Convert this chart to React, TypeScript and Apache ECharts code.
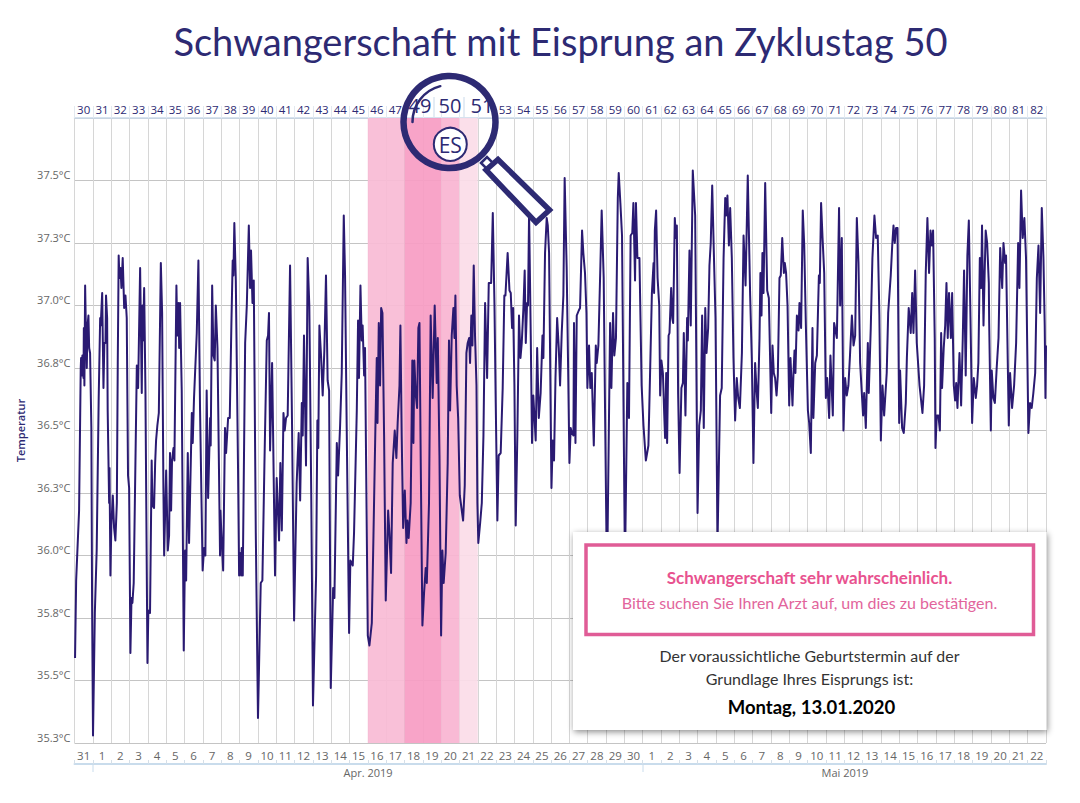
import React, { useEffect, useRef } from "react";
import * as echarts from "echarts";

const TITLE = "Schwangerschaft mit Eisprung an Zyklustag 50";
const NAVY = "#2d2a73";
const LINE = "#2a1a72";
const PINK = "#e05c96";

const cycleDays = ["30","31","32","33","34","35","36","37","38","39","40","41","42","43","44","45","46","47","","","","","","53","54","55","56","57","58","59","60","61","62","63","64","65","66","67","68","69","70","71","72","73","74","75","76","77","78","79","80","81","82"];
const calendarDays = ["31","1","2","3","4","5","6","7","8","9","10","11","12","13","14","15","16","17","18","19","20","21","22","23","24","25","26","27","28","29","30","1","2","3","4","5","6","7","8","9","10","11","12","13","14","15","16","17","18","19","20","21","22"];
const monthLabels = [{ text: "Apr. 2019", x: 368 }, { text: "Mai 2019", x: 845 }];
const fertileBands = [
  { from: 16, to: 18, color: "#f9bbd5" },
  { from: 18, to: 20, color: "#f79cc3" },
  { from: 20, to: 21, color: "#f9b4d1" },
  { from: 21, to: 22, color: "#fbdce8" },
];

// [day since 31 March, temperature in °C]
const firstStretch: [number, number][] = [
[0.03,35.59],[0.09,35.90],[0.25,36.18],[0.34,36.75],[0.36,36.79],[0.40,36.72],[0.43,36.80],[0.49,36.71],[0.51,36.91],[0.54,36.68],[0.58,37.08],[0.61,36.95],[0.67,36.75],[0.71,36.92],[0.76,36.96],[0.80,36.83],[0.85,36.81],[0.92,36.51],[0.96,35.80],[1.01,35.28],
[1.11,35.77],[1.21,36.02],[1.32,36.63],[1.40,36.95],[1.43,36.92],[1.51,37.05],[1.58,36.67],[1.63,36.85],[1.69,36.85],[1.72,37.04],[1.78,36.95],[1.81,36.58],[1.89,36.21],[1.91,36.35],[1.96,35.92],
[2.01,36.12],[2.09,36.24],[2.16,36.11],[2.23,36.06],[2.31,36.21],[2.36,36.77],[2.41,37.20],[2.45,37.11],[2.51,37.15],[2.56,37.07],[2.63,37.19],[2.71,36.99],[2.78,37.04],[2.85,36.95],[2.92,36.32],[2.98,36.27],
[3.05,35.61],[3.11,35.83],[3.16,35.81],[3.23,35.89],[3.40,36.76],[3.47,36.67],[3.58,37.15],[3.67,36.65],[3.71,37.00],[3.74,36.86],[3.80,37.07],[3.87,36.66],[3.98,35.57],
[4.03,35.78],[4.12,35.77],[4.21,36.38],[4.25,36.20],[4.34,36.19],[4.40,36.37],[4.45,36.46],[4.52,36.52],[4.60,36.57],[4.71,37.17],[4.78,36.97],[4.85,36.27],[4.89,36.00],
[5.00,36.34],[5.09,36.02],[5.16,36.08],[5.21,36.41],[5.27,36.18],[5.32,36.38],[5.40,36.43],[5.45,36.38],[5.56,37.08],[5.61,36.88],[5.67,37.01],[5.71,36.83],[5.76,37.01],[5.85,36.66],[5.96,35.62],
[6.03,36.02],[6.09,35.90],[6.18,36.41],[6.25,36.05],[6.32,36.29],[6.40,36.57],[6.45,36.45],[6.52,36.63],[6.67,36.89],[6.76,37.18],[6.85,36.58],[6.99,35.94],
[7.07,36.03],[7.14,36.00],[7.21,36.66],[7.29,36.23],[7.40,36.55],[7.43,36.44],[7.51,37.08],[7.58,36.80],[7.65,36.78],[7.71,37.00],[7.80,36.83],[7.94,36.00],[7.96,36.18],
[8.03,36.06],[8.11,35.94],[8.21,36.51],[8.27,36.41],[8.38,36.55],[8.47,36.55],[8.56,36.93],[8.63,37.18],[8.67,37.12],[8.72,37.33],[8.80,37.10],[8.92,36.36],[8.98,35.92],
[9.03,36.01],[9.09,35.92],[9.12,36.03],[9.18,35.92],[9.31,36.85],[9.40,37.00],[9.51,37.32],[9.58,37.07],[9.63,37.22],[9.71,37.01],[9.78,37.10],[9.89,36.09],
[10.01,35.35],[10.16,35.89],[10.25,35.90],[10.36,36.36],[10.49,36.86],[10.56,36.88],[10.61,36.97],[10.67,36.42],[10.78,36.77],[10.83,36.51],[10.94,35.92],
[11.03,36.31],[11.16,36.06],[11.23,36.37],[11.31,36.10],[11.40,36.57],[11.47,36.50],[11.54,36.55],[11.63,36.56],[11.76,37.16],[11.87,36.51],[11.98,35.74],
[12.12,36.29],[12.23,36.49],[12.31,36.22],[12.40,36.61],[12.45,36.48],[12.52,36.88],[12.63,36.36],[12.72,37.19],[12.81,37.00],[12.92,36.21],
[13.01,35.40],[13.18,35.92],[13.25,36.54],[13.30,36.43],[13.36,36.92],[13.45,36.80],[13.54,36.64],[13.63,36.82],[13.72,37.12],[13.81,36.70],[13.89,36.66],[13.98,35.47],
[14.11,35.87],[14.18,35.83],[14.31,36.45],[14.38,36.32],[14.49,36.52],[14.58,36.73],[14.69,37.36],[14.76,37.12],[14.85,36.51],[14.98,35.69],
[15.05,35.98],[15.18,35.96],[15.25,36.09],[15.40,36.58],[15.47,36.94],[15.52,36.71],[15.60,37.08],[15.67,36.86],[15.72,36.92],[15.80,36.72],[15.85,36.83],[15.91,36.36],[16.00,35.68],
];
const middleStretch: [number, number][] = [
[16.09,35.64],[16.22,35.73],[16.31,36.08],[16.42,36.53],[16.49,36.79],[16.53,36.53],[16.60,36.93],[16.67,36.68],[16.73,36.99],[16.80,36.97],[16.89,36.48],[16.98,35.82],
[17.11,36.18],[17.18,36.09],[17.27,35.93],[17.36,36.37],[17.47,36.50],[17.56,36.39],[17.63,36.53],[17.73,36.68],[17.78,36.92],[17.85,36.48],[17.93,36.11],
[18.02,36.26],[18.11,36.05],[18.16,36.14],[18.23,36.07],[18.34,36.21],[18.43,36.78],[18.49,36.45],[18.54,36.78],[18.62,36.64],[18.69,36.59],[18.76,36.91],[18.82,36.93],[18.89,36.37],[18.98,35.72],
[19.07,35.85],[19.16,35.95],[19.22,35.89],[19.34,36.21],[19.43,36.96],[19.54,36.63],[19.65,37.00],[19.76,36.69],[19.82,36.87],[19.91,36.40],[20.00,35.68],
[20.07,36.02],[20.14,35.89],[20.25,36.01],[20.36,36.37],[20.43,36.86],[20.49,36.58],[20.58,36.88],[20.67,36.99],[20.73,36.87],[20.78,37.04],[20.85,36.68],[20.93,36.55],
[21.02,36.24],[21.11,36.19],[21.20,36.14],[21.29,36.28],[21.38,36.81],[21.45,36.85],[21.53,36.87],[21.58,36.77],[21.65,36.96],[21.71,36.84],[21.78,37.16],[21.85,36.88],[21.93,36.68],[21.98,36.21],
[22.03,36.05],[22.13,36.13],[22.22,36.21],[22.31,36.48],[22.40,37.01],[22.51,36.71],[22.60,37.09],[22.73,37.09],[22.82,37.37],[22.91,37.01],[22.98,36.61],
[23.07,36.14],[23.14,36.40],[23.25,36.41],[23.36,36.67],[23.45,37.04],[23.51,37.04],[23.63,37.21],[23.73,37.06],[23.80,37.05],[23.87,36.91],[23.93,36.99],[24.00,36.68],
[24.07,36.12],[24.16,36.48],[24.25,36.96],[24.33,36.79],[24.40,36.85],[24.49,36.99],[24.56,37.14],[24.62,36.85],[24.69,37.01],[24.74,37.00],[24.80,37.37],[24.89,36.88],[24.96,36.45],
[25.03,36.64],[25.16,36.46],[25.24,36.83],[25.33,36.55],[25.43,36.65],[25.53,36.88],[25.58,36.79],[25.67,37.21],[25.76,37.35],[25.82,37.32],[25.89,37.21],
[26.02,36.27],[26.09,36.46],[26.16,36.38],[26.24,36.71],[26.33,36.95],[26.42,36.83],[26.49,36.68],[26.58,36.89],[26.67,37.04],[26.74,37.51],[26.85,37.15],[26.93,36.75],
[27.00,36.37],[27.07,36.51],[27.14,36.49],[27.22,36.48],[27.25,36.93],[27.33,36.45],[27.40,36.96],[27.51,36.98],[27.58,36.99],[27.69,37.30],[27.76,37.21],[27.85,37.13],[27.93,36.97],[27.98,36.67],
[28.07,36.84],[28.14,36.67],[28.22,36.73],[28.33,36.44],[28.44,36.84],[28.49,36.77],[28.58,36.84],[28.69,37.16],[28.76,37.38],[28.87,37.11],[28.94,36.61],
[29.05,35.88],[29.22,36.93],[29.29,36.67],[29.38,36.97],[29.45,36.80],[29.54,36.87],[29.64,37.43],[29.69,37.53],[29.78,37.41],[29.87,37.28],
[30.03,35.95],[30.16,36.69],[30.25,36.55],[30.34,37.28],[30.43,37.29],[30.49,37.41],[30.58,37.10],[30.63,37.41],[30.71,37.19],[30.82,37.19],[30.94,36.68],
];
const lastStretch: [number, number][] = [
[31.04,36.52],[31.17,36.38],[31.31,36.44],[31.41,36.76],[31.50,37.05],[31.59,37.17],[31.62,37.05],[31.66,37.30],[31.73,37.38],[31.81,37.11],[31.90,37.00],[31.95,36.64],
[32.02,36.78],[32.10,36.73],[32.17,36.57],[32.22,36.47],[32.28,36.73],[32.33,36.45],[32.41,36.88],[32.46,36.89],[32.55,37.07],[32.61,36.95],[32.66,36.93],[32.75,37.35],[32.81,37.27],[32.86,37.32],[32.93,36.65],
[33.01,36.33],[33.11,36.67],[33.19,36.69],[33.24,36.89],[33.33,36.56],[33.42,36.95],[33.46,36.86],[33.55,37.22],[33.62,36.92],[33.73,37.54],[33.86,37.36],[33.99,36.17],
[34.08,36.52],[34.17,36.58],[34.24,36.96],[34.33,36.51],[34.41,36.99],[34.48,36.81],[34.57,36.91],[34.64,37.16],[34.71,37.25],[34.79,37.48],[34.90,37.15],[34.97,36.95],
[35.08,36.05],[35.22,36.64],[35.31,36.67],[35.41,37.19],[35.50,37.43],[35.55,37.36],[35.62,37.44],[35.70,37.24],[35.77,37.39],[35.86,37.19],[35.95,36.79],
[36.04,36.54],[36.13,36.71],[36.21,36.63],[36.30,36.59],[36.33,36.65],[36.41,36.81],[36.50,37.28],[36.61,37.08],[36.73,37.52],[36.86,37.04],[36.95,36.79],
[37.04,36.37],[37.13,36.77],[37.22,36.65],[37.28,36.59],[37.37,36.87],[37.42,37.13],[37.48,36.96],[37.53,37.21],[37.59,37.05],[37.68,37.49],[37.79,37.06],[37.88,37.03],
[38.01,36.57],[38.08,36.84],[38.15,36.73],[38.22,36.71],[38.30,36.64],[38.37,36.72],[38.46,37.11],[38.53,37.12],[38.61,37.27],[38.70,37.13],[38.75,37.17],[38.82,37.13],[38.90,37.00],[38.99,36.60],
[39.06,36.79],[39.17,36.60],[39.22,36.72],[39.28,36.82],[39.33,36.73],[39.41,36.96],[39.50,36.90],[39.55,37.01],[39.64,36.91],[39.73,37.38],[39.81,37.24],[39.90,36.92],
[40.01,36.58],[40.08,36.53],[40.17,36.41],[40.26,36.91],[40.31,36.55],[40.41,36.77],[40.50,36.80],[40.61,37.12],[40.66,37.09],[40.73,37.41],[40.81,37.27],[40.90,37.13],[40.99,36.63],
[41.06,36.71],[41.17,36.55],[41.24,36.80],[41.37,36.56],[41.44,36.93],[41.59,36.87],[41.71,37.39],[41.77,37.00],[41.86,37.27],[41.95,36.50],
[42.04,36.71],[42.13,36.64],[42.22,36.68],[42.30,36.79],[42.41,36.96],[42.50,36.84],[42.59,36.88],[42.68,37.35],[42.77,37.17],[42.86,36.77],
[43.02,36.56],[43.08,36.65],[43.17,36.51],[43.28,36.85],[43.33,36.65],[43.44,36.91],[43.53,37.19],[43.64,37.36],[43.73,37.27],[43.82,37.28],[43.91,36.96],[43.99,36.46],
[44.08,36.68],[44.17,36.56],[44.31,36.73],[44.39,36.97],[44.53,37.12],[44.61,37.24],[44.68,37.32],[44.75,37.25],[44.82,37.31],[44.90,37.31],[44.99,36.53],
[45.04,36.74],[45.15,36.51],[45.24,36.49],[45.35,36.61],[45.41,36.79],[45.51,36.99],[45.62,36.89],[45.70,37.05],[45.77,36.89],[45.86,37.14],[45.95,36.85],
[46.10,36.68],[46.26,36.57],[46.35,36.68],[46.44,37.13],[46.53,37.35],[46.62,37.13],[46.70,37.30],[46.77,37.24],[46.84,37.30],[46.93,36.87],[46.97,36.43],
[47.04,36.56],[47.13,36.56],[47.21,36.50],[47.28,36.89],[47.33,36.67],[47.42,36.83],[47.50,36.92],[47.57,37.09],[47.64,36.87],[47.71,37.05],[47.81,36.87],[47.88,37.05],[47.97,36.68],
[48.04,36.62],[48.10,36.69],[48.17,36.59],[48.28,36.81],[48.37,36.60],[48.46,36.87],[48.53,37.14],[48.62,36.72],[48.71,37.20],[48.79,37.34],[48.88,36.95],[48.97,36.53],
[49.06,36.71],[49.17,36.63],[49.24,36.68],[49.31,36.77],[49.39,37.19],[49.46,37.07],[49.51,37.32],[49.59,36.92],[49.66,37.15],[49.71,37.30],[49.79,37.25],[49.88,37.09],[49.90,36.93],[49.99,36.50],
[50.04,36.74],[50.13,36.63],[50.21,36.61],[50.31,36.75],[50.41,36.87],[50.50,37.23],[50.61,37.07],[50.68,37.25],[50.77,37.17],[50.82,37.20],[50.97,36.52],
[51.04,36.73],[51.15,36.59],[51.26,36.68],[51.37,36.85],[51.48,37.25],[51.55,37.07],[51.64,37.46],[51.73,37.27],[51.82,37.35],[51.91,37.19],
[52.04,36.49],[52.13,36.61],[52.22,36.59],[52.31,36.65],[52.41,36.73],[52.50,37.11],[52.59,37.24],[52.68,36.97],[52.77,37.39],[52.86,37.19],[52.93,36.92],[52.97,36.63],[53.00,36.84],
];

const FONT = "'Open Sans', sans-serif";
const BOX_FONT = "Lato, sans-serif";

function boxText(text: string, y: number, size: number, color: string, weight: string | number = "normal", x = 809.5) {
  return {
    type: "text", z: 120,
    style: { text, x, y, fill: color, font: `${weight} ${size}px ${BOX_FONT}`, textAlign: "center", textVerticalAlign: "middle" },
  };
}
function lensText(text: string, x: number, size: number, weight: string | number = "normal") {
  return {
    type: "text", z: 110,
    style: { text, x, y: 105, fill: NAVY, font: `${weight} ${size}px ${FONT}`, textAlign: "center", textVerticalAlign: "middle" },
  };
}

export default function App() {
  const ref = useRef<HTMLDivElement>(null);
  useEffect(() => {
    const chart = echarts.init(ref.current!, undefined, { renderer: "svg" });
    chart.setOption({
      animation: false,
      backgroundColor: "#ffffff",
      grid: { left: 74.5, right: 34, top: 118, bottom: 60, containLabel: false },
      xAxis: [
        {
          type: "value", min: 0, max: 53, interval: 1,
          axisLine: { show: false }, axisTick: { show: false }, axisLabel: { show: false },
          splitLine: { show: true, lineStyle: { color: "#d6d6d6", width: 1 } },
        },
        {
          type: "category", position: "bottom", offset: 21, data: calendarDays, boundaryGap: true,
          axisLine: { show: true, lineStyle: { color: "#c9dcec", width: 2 } },
          axisTick: { show: true, inside: true, length: 4, alignWithLabel: false, lineStyle: { color: "#d5dfe8" } },
          axisLabel: { inside: true, interval: 0, margin: 3, color: "#666666", fontFamily: FONT, fontSize: 11.5, hideOverlap: false },
          splitLine: { show: false },
        },
        {
          type: "category", position: "top", offset: 0, data: cycleDays, boundaryGap: true,
          axisLine: { show: true, lineStyle: { color: "#c9d9ea", width: 1.5 } },
          axisTick: { show: true, length: 12, lineStyle: { color: "#e3e9f0" } },
          axisLabel: { interval: 0, margin: 3, color: NAVY, fontFamily: FONT, fontSize: 11.5, hideOverlap: false },
          splitLine: { show: false },
        },
      ],
      yAxis: {
        type: "value", min: 35.25, max: 37.75, interval: 0.25,
        name: "Temperatur", nameLocation: "middle", nameGap: 49, nameRotate: 90,
        nameTextStyle: { color: NAVY, fontFamily: FONT, fontSize: 11, fontWeight: 600 },
        axisLine: { show: false }, axisTick: { show: false },
        axisLabel: {
          color: "#666666", fontFamily: FONT, fontSize: 11, margin: 4, verticalAlign: "bottom", lineHeight: 12,
          formatter: (v: number) => (v >= 37.75 ? "" : `${v.toFixed(1)}°C`),
        },
        splitLine: { show: true, lineStyle: { color: "#c4c4c4", width: 1 } },
      },
      series: [
        {
          type: "line", xAxisIndex: 0, yAxisIndex: 0, symbol: "none", smooth: false, silent: true, z: 5,
          lineStyle: { color: LINE, width: 2, join: "round" },
          data: [...firstStretch, ...middleStretch, ...lastStretch],
          markArea: {
            silent: true,
            itemStyle: { opacity: 0.92 },
            data: fertileBands.map((b) => [
              { xAxis: b.from, yAxis: 35.25, itemStyle: { color: b.color } },
              { xAxis: b.to, yAxis: 37.75 },
            ]),
          },
        },
      ],
      title: {
        text: TITLE, left: 555.5, top: 17, textAlign: "center",
        textStyle: { color: NAVY, fontFamily: BOX_FONT, fontSize: 38, fontWeight: "normal" },
      },
      graphic: {
        z: 100,
        elements: [
          ...monthLabels.map((m) => ({
            type: "text", z: 101,
            style: { text: m.text, x: m.x, y: 772, fill: "#666666", font: `11px ${FONT}`, textAlign: "center", textVerticalAlign: "middle" },
          })),
          { type: "line", z: 101, shape: { x1: 93, y1: 764, x2: 93, y2: 772 }, style: { stroke: "#c9dcec", lineWidth: 1 } },
          { type: "line", z: 101, shape: { x1: 643, y1: 764, x2: 643, y2: 772 }, style: { stroke: "#c9dcec", lineWidth: 1 } },
          // magnifier
          { type: "line", z: 105, shape: { x1: 434, y1: 97, x2: 434, y2: 117 }, style: { stroke: "#c9d9ea", lineWidth: 1 } },
          { type: "line", z: 105, shape: { x1: 464, y1: 97, x2: 464, y2: 117 }, style: { stroke: "#c9d9ea", lineWidth: 1 } },
          lensText("49", 420, 20, 500),
          lensText("50", 450, 20, 500),
          lensText("51", 482, 20, 500),
          { type: "polygon", z: 112, shape: { points: [[481, 163], [487, 157], [498, 168], [492, 174]] }, style: { fill: "#ffffff", stroke: NAVY, lineWidth: 2.5 } },
          { type: "polygon", z: 113, shape: { points: [[486, 170], [498, 159.5], [549.5, 210], [536, 222.5]] }, style: { fill: "#ffffff", stroke: NAVY, lineWidth: 5.5, lineJoin: "miter" } },
          { type: "circle", z: 114, shape: { cx: 449.5, cy: 122, r: 46 }, style: { fill: "none", stroke: NAVY, lineWidth: 6.5 } },
          { type: "arc", z: 114, shape: { cx: 449.5, cy: 122, r: 37, startAngle: Math.PI * 1.0, endAngle: Math.PI * 1.42, clockwise: true }, style: { fill: "none", stroke: NAVY, lineWidth: 2.5, lineCap: "round" } },
          { type: "circle", z: 114, shape: { cx: 450.3, cy: 144.3, r: 16.5 }, style: { fill: "#ffffff", stroke: NAVY, lineWidth: 2 } },
          { type: "text", z: 115, style: { text: "ES", x: 450.3, y: 144.5, fill: NAVY, font: `21px ${FONT}`, textAlign: "center", textVerticalAlign: "middle" } },
          // info box
          { type: "rect", z: 116, shape: { x: 573, y: 532, width: 473.5, height: 198 }, style: { fill: "#ffffff", shadowBlur: 6, shadowOffsetX: 1, shadowOffsetY: 2, shadowColor: "rgba(0,0,0,0.45)" } },
          { type: "rect", z: 117, shape: { x: 586, y: 545, width: 447.5, height: 89.5 }, style: { fill: "#ffffff", stroke: PINK, lineWidth: 3.5 } },
          boxText("Schwangerschaft sehr wahrscheinlich.", 577.5, 17, "#e8528f", 700),
          boxText("Bitte suchen Sie Ihren Arzt auf, um dies zu bestätigen.", 602, 16, "#e2659c"),
          boxText("Der voraussichtliche Geburtstermin auf der", 655.5, 15.9, "#333333"),
          boxText("Grundlage Ihres Eisprungs ist:", 678, 16, "#333333"),
          boxText("Montag, 13.01.2020", 706.5, 18.5, "#000000", 700, 811.5),
        ],
      },
    });
    return () => chart.dispose();
  }, []);
  return <div ref={ref} style={{ position: "fixed", left: 0, top: 0, width: 1080, height: 803 }} />;
}
